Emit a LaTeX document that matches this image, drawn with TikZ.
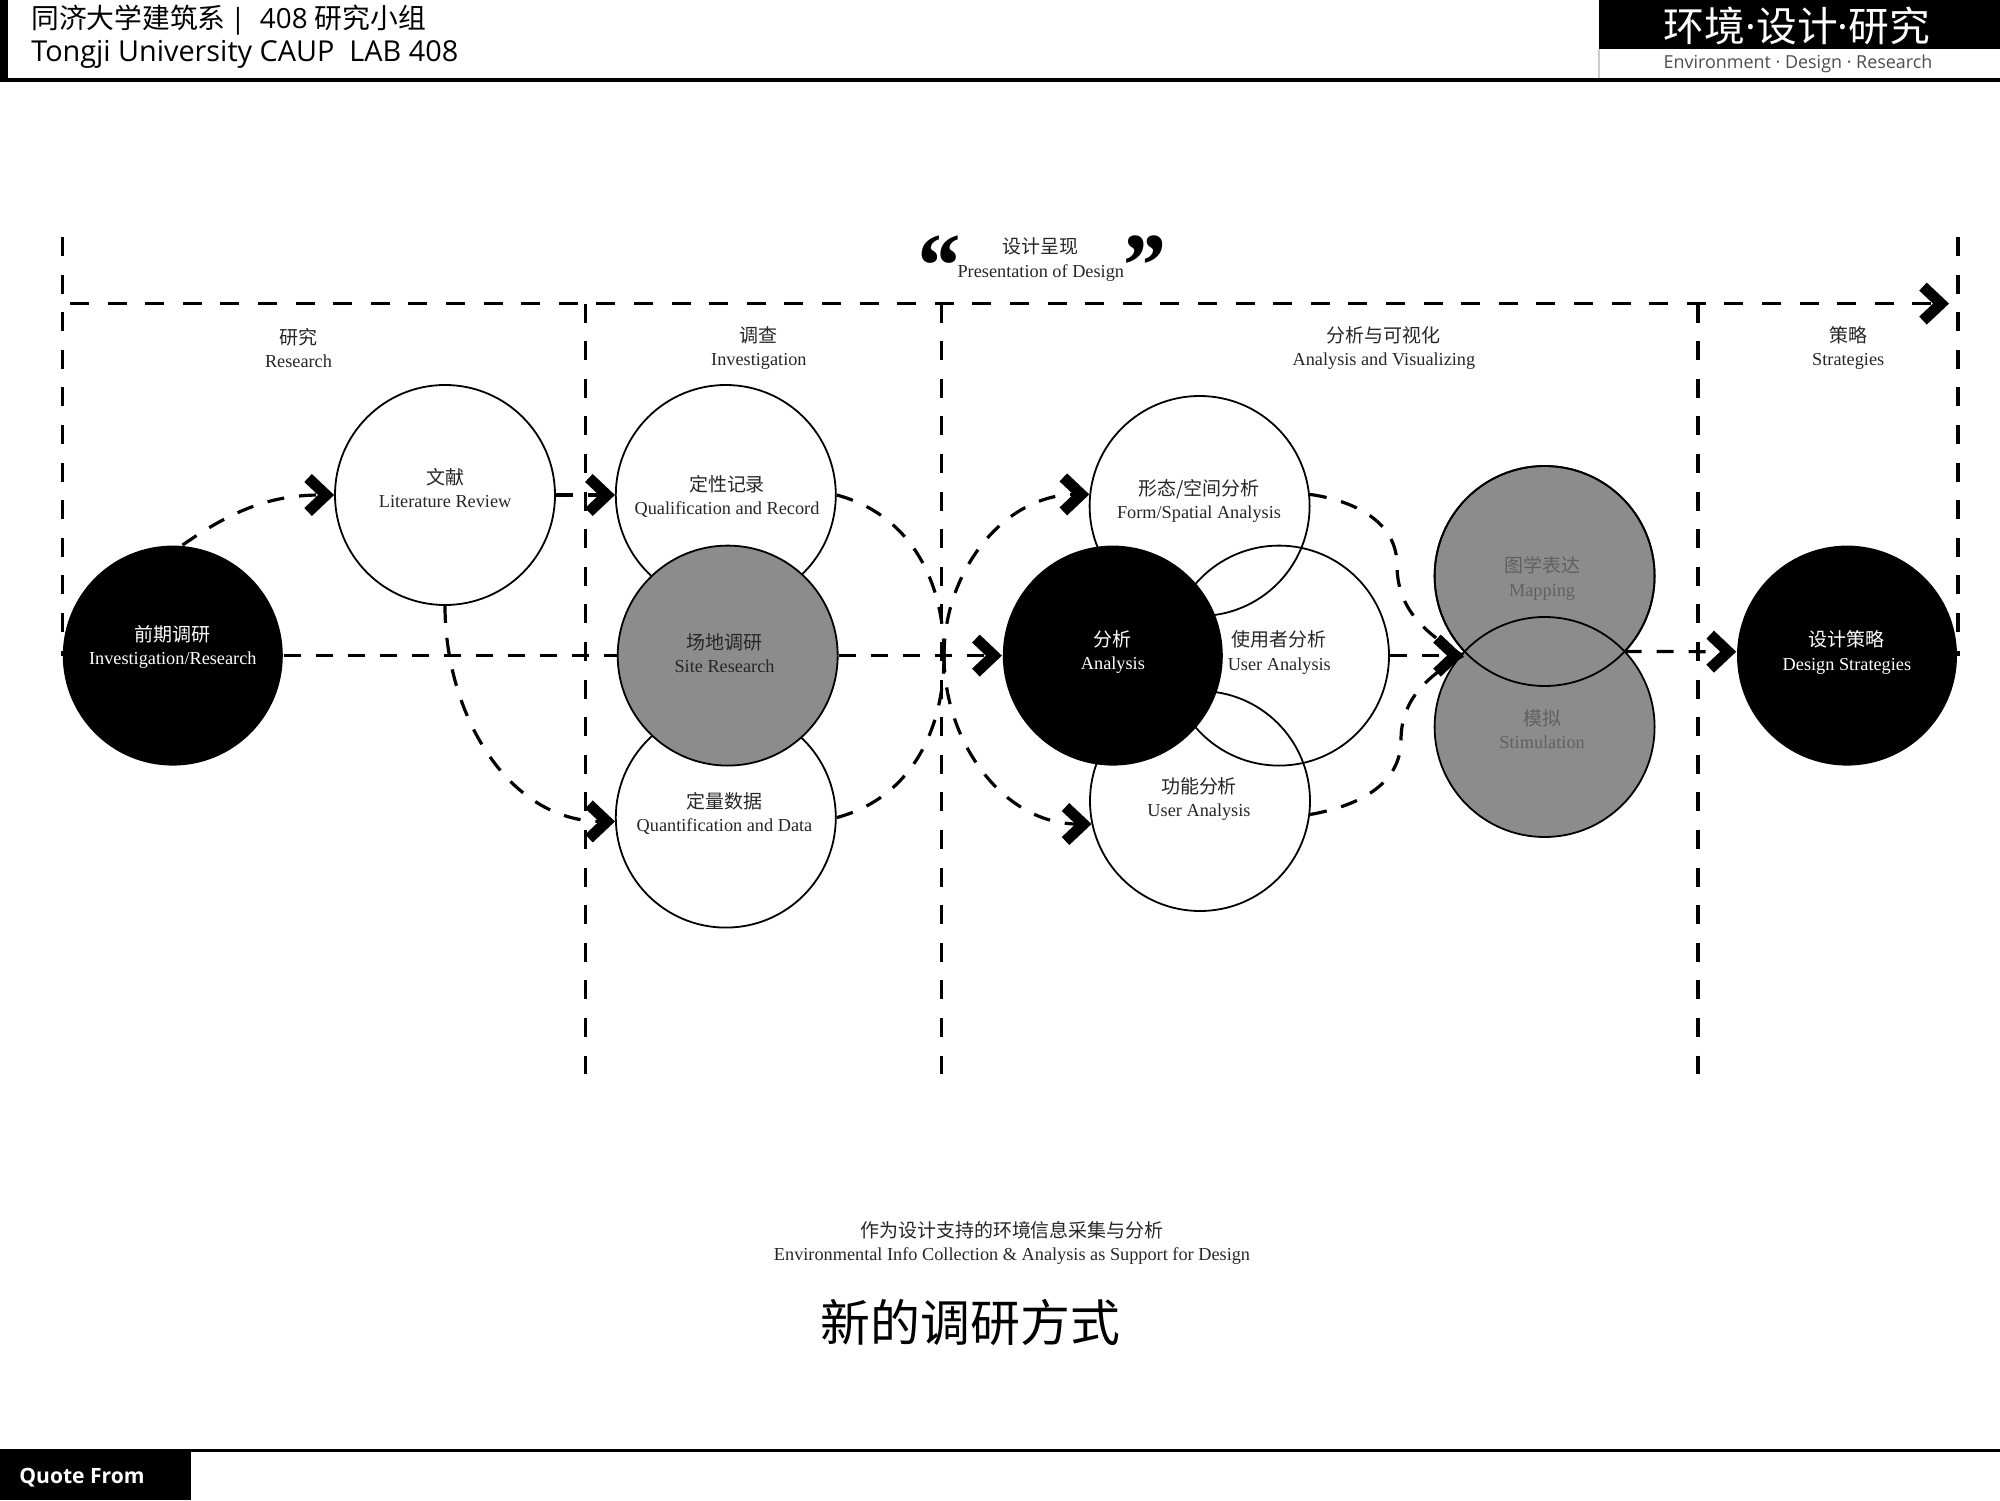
\documentclass[tikz,border=0pt]{standalone}
\usepackage{fontspec}
\usepackage{tikz}
\usetikzlibrary{arrows.meta}
\setmainfont{Liberation Serif}
\newfontfamily\zhfont{Noto Sans CJK SC}
\newfontfamily\hdfont{Open Sans}
\newcommand{\zh}[1]{{\zhfont\fontsize{5.4}{6.6}\selectfont #1}}
\definecolor{midgray}{HTML}{8C8C8C}
\tikzset{
  circ/.style={circle, draw=black, line width=0.018cm, minimum size=2.2cm, inner sep=0pt},
  circgray/.style={circ, fill=midgray},
  circblack/.style={circ, draw=none, fill=black},
  frameline/.style={line width=0.032cm, dash pattern=on 0.19cm off 0.186cm},
  linkline/.style={line width=0.032cm, dash pattern=on 0.17cm off 0.15cm},
  chevron/.style={-{Straight Barb[length=0.18cm, width=0.34cm, line width=0.11cm]}},
  lab/.style={align=center, inner sep=0pt, text=black!85, font=\fontsize{5.2}{6.6}\selectfont},
  labw/.style={lab, text=white},
  labd/.style={lab, text=black!62},
  headtxt/.style={anchor=west, inner sep=0pt, font=\hdfont\fontsize{8.2}{10}\selectfont},
  quotemark/.style={inner sep=0pt, font=\bfseries\itshape\fontsize{26}{26}\selectfont},
}
\begin{document}
\begin{tikzpicture}
  \useasboundingbox (0,0) rectangle (20,15);
  % header and footer bars
  \fill [black] (0,15) rectangle (0.08,14.2);
  \fill [black] (0,14.22) rectangle (20,14.18);
  \fill [black] (15.99,15) rectangle (20,14.51);
  \draw [black!20, line width=0.015cm] (15.99,14.51) -- (15.99,14.22);
  \fill [black] (0,0.5) rectangle (1.91,0);
  \fill [black] (0,0.51) rectangle (20,0.485);
  \node [headtxt, font=\hdfont\fontsize{7.9}{10}\selectfont] (hdzh) at (0.306,14.80) {{\zhfont 同济大学建筑系}\,|\ \ 408 {\zhfont 研究小组}};
  \node [headtxt] (hden) at (0.306,14.46) {Tongji University CAUP\ \ LAB 408};
  \node [inner sep=0pt, text=white, font=\zhfont\fontsize{11.6}{13}\selectfont] (logozh) at (17.97,14.74) {环境{\hdfont ·}设计{\hdfont ·}研究};
  \node [inner sep=0pt, text=black!70, font=\hdfont\fontsize{5.1}{6}\selectfont] (logoen) at (17.98,14.36) {Environment · Design · Research};
  \node [inner sep=0pt, text=white, font=\hdfont\bfseries\fontsize{6}{7}\selectfont] (quote) at (0.82,0.22) {Quote From};

  % frame and dividers
  \coordinate (frameTL)  at (0.70,11.964);
  \coordinate (frameTR)  at (19.49,11.964);
  \coordinate (frameLa)  at (0.625,12.63);
  \coordinate (frameLb)  at (0.625,8.444);
  \coordinate (frameRa)  at (19.58,12.63);
  \coordinate (frameRb)  at (19.58,8.444);
  \coordinate (divAa)    at (5.855,11.964);
  \coordinate (divAb)    at (5.855,4.26);
  \coordinate (divBa)    at (9.413,11.964);
  \coordinate (divBb)    at (9.413,4.26);
  \coordinate (divCa)    at (16.98,11.964);
  \coordinate (divCb)    at (16.98,4.26);
  \draw [frameline, chevron] (frameTL) -- (frameTR);
  \draw [frameline] (frameLa) -- (frameLb);
  \draw [frameline] (frameRa) -- (frameRb);
  \draw [frameline] (divAa) -- (divAb);
  \draw [frameline] (divBa) -- (divBb);
  \draw [frameline] (divCa) -- (divCb);

  % white circles, outlines stay visible where they overlap
  \node [circ] (lit)   at (4.45,10.05)   {};
  \node [circ] (qual)  at (7.258,10.05)  {};
  \node [circ] (quant) at (7.258,6.824)  {};
  \node [circ] (form)  at (11.996,9.94)  {};
  \node [circ] (user)  at (12.79,8.444)  {};
  \node [circ] (func)  at (12.0,6.99)    {};

  % gray and black circles
  \node [circgray]  (site)    at (7.277,8.444)  {};
  \node [circgray]  (mapping) at (15.446,9.24)  {};
  \node [circgray]  (sim)     at (15.446,7.73)  {};
  \draw [line width=0.018cm] (mapping.center) circle (1.1);
  \node [circblack] (inv)     at (1.728,8.444)  {};
  \node [circblack] (ana)     at (11.128,8.444) {};
  \node [circblack] (design)  at (18.47,8.444)  {};

  % connectors
  \coordinate (midjoin) at (9.44,8.444);
  \coordinate (outjoin) at (14.63,8.444);
  \coordinate (mapsim)  at (16.246,8.485);
  \coordinate (formmid) at (13.97,9.35);
  \coordinate (funcmid) at (14.01,7.6);
  \draw [linkline] (inv) -- (site);
  \draw [linkline, chevron] (site) -- (ana);
  \draw [linkline, chevron] (inv.85) to[out=35, in=180] (lit.west);
  \draw [linkline, chevron] (lit) -- (qual);
  \draw [linkline, chevron] (lit.south) to[out=-90, in=180] (quant.182);
  \draw [linkline] (qual.east) to[out=-15, in=90] (midjoin);
  \draw [linkline] (quant.east) to[out=15, in=-90] (midjoin);
  \draw [linkline, chevron] (midjoin) to[out=90, in=180] (form.174);
  \draw [linkline, chevron] (midjoin) to[out=-90, in=180] (func.192);
  \draw [linkline] (form.6) to[out=-8, in=90] (formmid) to[out=-90, in=150] (outjoin);
  \draw [linkline] (func.-7) to[out=10, in=-90] (funcmid) to[out=90, in=210] (outjoin);
  \draw [linkline, chevron] (user.east) -- (outjoin);
  \draw [linkline, chevron] (mapsim) -- (design.178);

  % section titles
  \node [lab] (ttop) at (10.408,12.404) {\zh{设计呈现}\\Presentation of Design};
  \node [quotemark] (qleft)  at (9.362,12.334) {“};
  \node [quotemark] (qright) at (11.41,12.334) {”};
  \node [lab] (tres) at (2.985,11.518)  {\zh{研究}\\Research};
  \node [lab] (tinv) at (7.589,11.518)  {\zh{调查}\\Investigation};
  \node [lab] (tana) at (13.839,11.518) {\zh{分析与可视化}\\Analysis and Visualizing};
  \node [lab] (tstr) at (18.482,11.518) {\zh{策略}\\Strategies};

  % circle labels
  \node [labw] (tinvres) at (1.728,8.527)  {\zh{前期调研}\\Investigation/Research};
  \node [lab]  (tlit)    at (4.451,10.121) {\zh{文献}\\Literature Review};
  \node [lab]  (tqual)   at (7.27,10.038)  {\zh{定性记录}\\Qualification and Record};
  \node [lab]  (tsite)   at (7.245,8.469)  {\zh{场地调研}\\Site Research};
  \node [lab]  (tquant)  at (7.245,6.869)  {\zh{定量数据}\\Quantification and Data};
  \node [labw] (tanal)   at (11.129,8.476) {\zh{分析}\\Analysis};
  \node [lab]  (tform)   at (11.99,9.994)  {\zh{形态/空间分析}\\Form/Spatial Analysis};
  \node [lab]  (tuser)   at (12.793,8.476) {\zh{使用者分析}\\User Analysis};
  \node [lab]  (tfunc)   at (11.99,7.009)  {\zh{功能分析}\\User Analysis};
  \node [labd] (tmap)    at (15.421,9.216) {\zh{图学表达}\\Mapping};
  \node [labd] (tsim)    at (15.421,7.711) {\zh{模拟}\\Stimulation};
  \node [labw] (tdes)    at (18.469,8.476) {\zh{设计策略}\\Design Strategies};

  % captions
  \node [lab] (tcap) at (10.12,2.57) {\zh{作为设计支持的环境信息采集与分析}\\Environmental Info Collection \& Analysis as Support for Design};
  \node [inner sep=0pt, font=\zhfont\fontsize{14.2}{16}\selectfont] (thead) at (9.707,1.773) {新的调研方式};
\end{tikzpicture}
\end{document}
